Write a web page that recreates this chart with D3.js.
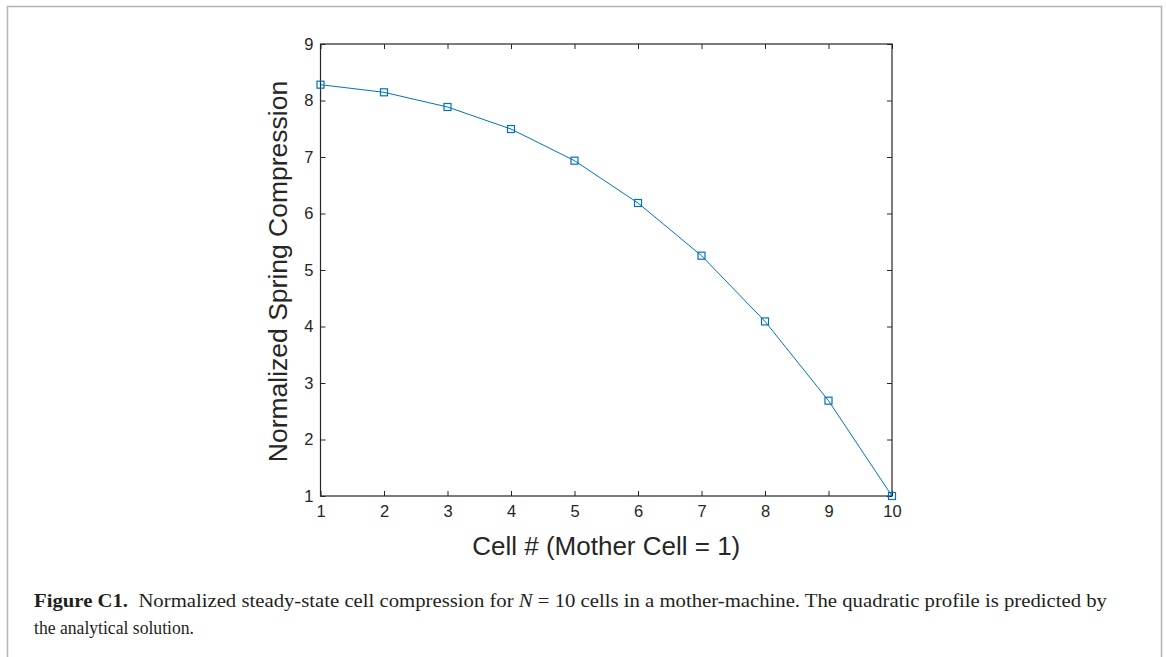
<!DOCTYPE html>
<html><head><meta charset="utf-8">
<script src="https://cdn.jsdelivr.net/npm/d3@7"></script>
<style>body{margin:0;background:#fff}svg{display:block}</style>
</head><body>
<svg id="c" width="1166" height="657"></svg>
<script>
const cells = [1,2,3,4,5,6,7,8,9,10];
const compression = [8.28,8.145,7.885,7.495,6.935,6.186,5.253,4.09,2.687,1.0];
const xTicks = [1,2,3,4,5,6,7,8,9,10];
const yTicks = [1,2,3,4,5,6,7,8,9];
const xLabel = "Cell # (Mother Cell = 1)";
const yLabel = "Normalized Spring Compression";

const svg = d3.select("#c");
svg.append("path").attr("d","M7.5,657 V6.5 H1161.5 V657").attr("fill","none").attr("stroke","#b3b3b3").attr("stroke-width",1.5);

const L=320.5,R=892,T=44,B=496;
const x=d3.scaleLinear().domain([1,10]).range([L,R]);
const y=d3.scaleLinear().domain([1,9]).range([B,T]);
const axCol="#262626";
const font="'Liberation Sans', Arial, sans-serif";

const g=svg.append("g");
function styleAxis(sel){
  sel.attr("font-size",null).attr("font-family",null);
  sel.select(".domain").remove();
  sel.selectAll(".tick line").attr("stroke",axCol).attr("stroke-width",1);
  sel.selectAll(".tick text").attr("fill",axCol).attr("font-family",font).attr("font-size",16.5);
}
const xb=g.append("g").attr("transform",`translate(0,${B})`).call(d3.axisBottom(x).tickValues(xTicks).tickSize(-5).tickPadding(9).tickFormat(d3.format("d")));
styleAxis(xb);
const xt=g.append("g").attr("transform",`translate(0,${T})`).call(d3.axisTop(x).tickValues(xTicks).tickSize(-5).tickFormat(""));
styleAxis(xt);
const yl=g.append("g").attr("transform",`translate(${L},0)`).call(d3.axisLeft(y).tickValues(yTicks).tickSize(-5).tickPadding(7).tickFormat(d3.format("d")));
styleAxis(yl);
const yr=g.append("g").attr("transform",`translate(${R},0)`).call(d3.axisRight(y).tickValues(yTicks).tickSize(-5).tickFormat(""));
styleAxis(yr);
g.append("rect").attr("x",L).attr("y",T).attr("width",R-L).attr("height",B-T).attr("fill","none").attr("stroke",axCol).attr("stroke-width",1.2);

const col="#0072BD";
const pts=cells.map((c,i)=>[c,compression[i]]);
g.append("path").datum(pts).attr("fill","none").attr("stroke",col).attr("stroke-width",1)
 .attr("d",d3.line().x(d=>x(d[0])).y(d=>y(d[1])));
g.selectAll("rect.m").data(pts).enter().append("rect").attr("class","m")
 .attr("x",d=>x(d[0])-3.5).attr("y",d=>y(d[1])-3.5).attr("width",7).attr("height",7)
 .attr("fill","none").attr("stroke",col).attr("stroke-width",1.2);

svg.append("text").attr("x",(L+R)/2).attr("y",555).attr("text-anchor","middle")
 .attr("font-family",font).attr("font-size",26).attr("fill",axCol).text(xLabel);
svg.append("text").attr("transform",`translate(287,${(83+460)/2}) rotate(-90)`).attr("text-anchor","middle")
 .attr("font-family",font).attr("font-size",26.5).attr("fill",axCol).text(yLabel);

const serif="'Liberation Serif','Times New Roman',serif";
const cap=svg.append("text").attr("x",34).attr("y",607).attr("font-family",serif).attr("font-size",19).attr("fill","#231f20");
cap.append("tspan").attr("font-weight","bold").text("Figure C1.");
cap.append("tspan").text("\u2002Normalized steady-state cell compression for ");
cap.append("tspan").attr("font-style","italic").text("N");
cap.append("tspan").text(" = 10 cells in a mother-machine. The quadratic profile is predicted by");
cap.attr("textLength",1107-34).attr("lengthAdjust","spacingAndGlyphs");
svg.append("text").attr("x",34).attr("y",634).attr("font-family",serif).attr("font-size",19).attr("fill","#231f20")
 .attr("textLength",160).attr("lengthAdjust","spacingAndGlyphs").text("the analytical solution.");
</script>
</body></html>
